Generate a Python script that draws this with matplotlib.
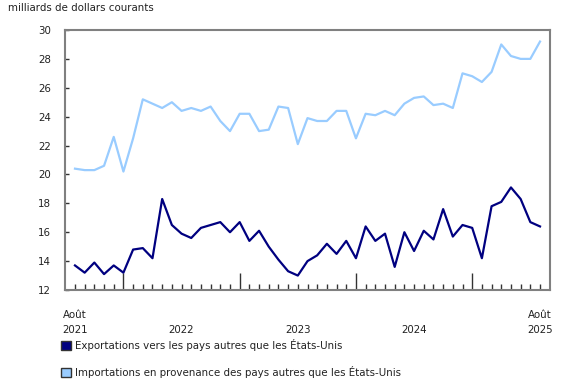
import matplotlib
matplotlib.use("Agg")
import matplotlib.pyplot as plt
import numpy as np
from matplotlib.patches import Patch

plt.rcParams['font.family'] = ['DejaVu Sans']

# Monthly values, August 2021 to August 2025 (billions of current dollars)
exports_non_us = [13.7, 13.2, 13.9, 13.1, 13.7, 13.2, 14.8, 14.9, 14.2, 18.3,
                  16.5, 15.9, 15.6, 16.3, 16.5, 16.7, 16.0, 16.7, 15.4, 16.1,
                  15.0, 14.1, 13.3, 13.0, 14.0, 14.4, 15.2, 14.5, 15.4, 14.2,
                  16.4, 15.4, 15.9, 13.6, 16.0, 14.7, 16.1, 15.5, 17.6, 15.7,
                  16.5, 16.3, 14.2, 17.8, 18.1, 19.1, 18.3, 16.7, 16.4]
imports_non_us = [20.4, 20.3, 20.3, 20.6, 22.6, 20.2, 22.5, 25.2, 24.9, 24.6,
                  25.0, 24.4, 24.6, 24.4, 24.7, 23.7, 23.0, 24.2, 24.2, 23.0,
                  23.1, 24.7, 24.6, 22.1, 23.9, 23.7, 23.7, 24.4, 24.4, 22.5,
                  24.2, 24.1, 24.4, 24.1, 24.9, 25.3, 25.4, 24.8, 24.9, 24.6,
                  27.0, 26.8, 26.4, 27.1, 29.0, 28.2, 28.0, 28.0, 29.2]

series_labels = ["Exportations vers les pays autres que les États-Unis",
                 "Importations en provenance des pays autres que les États-Unis"]
colors = ["#000080", "#99ccff"]

# x labels: month index, month text, year text
month_labels = [(0, "Août"), (48, "Août")]
year_labels = [(0, "2021"), (11, "2022"), (23, "2023"), (35, "2024"), (48, "2025")]
jan_idx = [5, 17, 29, 41]
y_ticks = list(range(12, 31, 2))

months = np.arange(len(exports_non_us))
fs = 7.4

fig = plt.figure(figsize=(5.8, 3.85), dpi=100)
ax = fig.add_axes([65/580, 95/385, 485/580, 260/385])

ax.plot(months, imports_non_us, color=colors[1], lw=1.6)
ax.plot(months, exports_non_us, color=colors[0], lw=1.6)

ax.set_xlim(-1.03, 49.03)
ax.set_ylim(12, 30)

for s in ax.spines.values():
    s.set_color("#808080")
    s.set_linewidth(1.5)

ax.set_yticks(y_ticks)
ax.tick_params(axis="y", direction="in", length=3, width=1, color="#333333",
               labelsize=fs, pad=10, labelcolor="#222222")

# month ticks (short) and January ticks (long)
ax.set_xticks(jan_idx)
ax.set_xticks([m for m in months if m not in jan_idx], minor=True)
ax.set_xticklabels([])
ax.tick_params(axis="x", which="major", direction="in", length=12, width=1,
               color="#333333")
ax.tick_params(axis="x", which="minor", direction="in", length=4, width=1,
               color="#333333")

xt = ax.get_xaxis_transform()
for xi, txt in month_labels:
    ax.text(xi, -25/260, txt, transform=xt, ha="center", va="center",
            fontsize=fs, color="#222222")
for xi, txt in year_labels:
    ax.text(xi, -40/260, txt, transform=xt, ha="center", va="center",
            fontsize=fs, color="#222222")

fig.text(8/580, 1 - 8/385, "milliards de dollars courants", fontsize=fs,
         color="#222222", va="center", ha="left")

handles = [Patch(facecolor=colors[0], edgecolor="#333333", lw=1),
           Patch(facecolor=colors[1], edgecolor="#333333", lw=1)]
fig.legend(handles, series_labels, loc="upper left",
           bbox_to_anchor=(61/580, 1 - 339/385), frameon=False, fontsize=fs,
           handlelength=1.0, handleheight=1.0, handletextpad=0.4,
           labelspacing=1.45, borderaxespad=0, borderpad=0,
           labelcolor="#222222")

fig.savefig("out.png", dpi=100)
